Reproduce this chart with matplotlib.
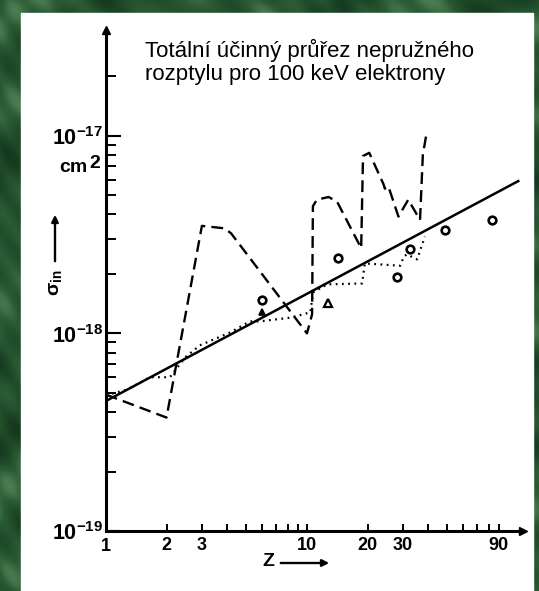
import numpy as np
import matplotlib
matplotlib.use("Agg")
import matplotlib.pyplot as plt
from matplotlib import font_manager
from matplotlib.colors import LinearSegmentedColormap
from matplotlib.patches import Rectangle
from matplotlib.ticker import FixedLocator, NullLocator, FixedFormatter

W, H = 539, 591

# dashed curve (shell model)
dash_z = [1.0, 2.0, 3.0, 3.9, 4.2, 10.0, 10.6, 10.7, 11.2, 12.8, 14.1, 18.6,
          19.0, 20.4, 24.0, 24.4, 25.4, 28.5, 31.9, 36.5, 37.7, 39.2]
dash_s = [4.9e-19, 3.75e-19, 3.5e-18, 3.4e-18, 3.2e-18, 1.0e-18, 1.25e-18,
          4.4e-18, 4.75e-18, 4.9e-18, 4.65e-18, 2.7e-18, 7.9e-18, 8.2e-18,
          5.7e-18, 5.4e-18, 5.55e-18, 3.9e-18, 4.75e-18, 3.75e-18, 8.0e-18,
          1.01e-17]

# dotted curve
dot_z = [1.0, 1.28, 1.65, 2.08, 2.47, 2.93, 4.14, 5.2, 5.83, 8.2, 9.6, 10.4,
         10.7, 12.6, 18.8, 19.4, 29.1, 30.3, 31.4, 35.3, 38.6]
dot_s = [4.86e-19, 5.2e-19, 6.0e-19, 6.0e-19, 7.55e-19, 8.7e-19, 1.01e-18,
         1.15e-18, 1.15e-18, 1.2e-18, 1.25e-18, 1.28e-18, 1.61e-18, 1.77e-18,
         1.79e-18, 2.26e-18, 2.2e-18, 2.45e-18, 2.51e-18, 2.37e-18, 3.09e-18]

# solid power-law fit
sol_z = [1.0, 112.5]
sol_s = [4.55e-19, 5.9e-18]

# measured points
circ_z = [6.0, 14.3, 27.9, 32.6, 48.7, 83.1]
circ_s = [1.48e-18, 2.41e-18, 1.94e-18, 2.68e-18, 3.35e-18, 3.77e-18]
tri_z = [6.0, 12.7]
tri_s = [1.29e-18, 1.43e-18]

xtick_pos = [2, 3, 4, 5, 6, 7, 8, 9, 10, 20, 30, 40, 50, 60, 70, 80, 90]
xtick_lab = ["2", "3", "", "", "", "", "", "", "10", "20", "30",
             "", "", "", "", "", "90"]
ymajor = [1e-19, 1e-18, 1e-17]
ylabels = [r"$\mathbf{10^{-19}}$", r"$\mathbf{10^{-18}}$", r"$\mathbf{10^{-17}}$"]

names = {f.name for f in font_manager.fontManager.ttflist}
narrow = "Liberation Sans Narrow" if "Liberation Sans Narrow" in names else "Liberation Sans"
plt.rcParams["mathtext.fontset"] = "custom"
plt.rcParams["mathtext.rm"] = narrow
plt.rcParams["mathtext.it"] = narrow
plt.rcParams["mathtext.bf"] = narrow + ":bold"

fig = plt.figure(figsize=(W / 100, H / 100), dpi=100)

# marbled green backdrop
bg = fig.add_axes([0, 0, 1, 1])
yy, xx = np.mgrid[0:H, 0:W]
tex = (np.sin(xx / 21.0 + 2.5 * np.sin(yy / 37.0)) +
       np.sin(yy / 15.0 + 2.0 * np.sin(xx / 29.0)) +
       0.7 * np.sin((xx - yy) / 7.0 + 3 * np.sin(xx / 53.0)))
cmap = LinearSegmentedColormap.from_list("marble", ["#15381f", "#1f4a29", "#2b5c35", "#4c7d52"])
bg.imshow(tex, cmap=cmap, aspect="auto", extent=[0, W, H, 0])
bg.add_patch(Rectangle((21, 13), 533 - 21, H - 13, color="white"))
bg.set_xlim(0, W)
bg.set_ylim(H, 0)
bg.axis("off")


def px(x, y):
    return x / W, 1 - y / H


ax = fig.add_axes([106 / W, (H - 531) / H, 417 / W, 501 / H])
ax.set_xscale("log")
ax.set_yscale("log")
ax.set_xlim(1, 10 ** (417 / 201))
ax.set_ylim(1e-19, 10 ** (-18 + 304 / 198))
ax.patch.set_alpha(0)

ax.plot(sol_z, sol_s, "-", color="black", lw=1.8)
ax.plot(dash_z, dash_s, color="black", lw=1.7, dashes=(5, 2.6))
ax.plot(dot_z, dot_s, color="black", lw=1.6, dashes=(0.8, 2.0))
ax.plot(circ_z, circ_s, "o", ms=5.5, mfc="white", mec="black", mew=1.9)
ax.plot(tri_z[:1], tri_s[:1], "^", ms=5, mfc="black", mec="black", mew=1.2)
ax.plot(tri_z[1:], tri_s[1:], "^", ms=5.5, mfc="white", mec="black", mew=1.6)

for s in ["top", "right"]:
    ax.spines[s].set_visible(False)
for s in ["left", "bottom"]:
    ax.spines[s].set_linewidth(2.2)
ax.plot(0, 1, "^", color="black", ms=6, transform=ax.transAxes, clip_on=False)
ax.plot(1, 0, ">", color="black", ms=6, transform=ax.transAxes, clip_on=False)

ax.xaxis.set_major_locator(FixedLocator(xtick_pos))
ax.xaxis.set_major_formatter(FixedFormatter(xtick_lab))
ax.xaxis.set_minor_locator(NullLocator())
ax.tick_params(axis="x", which="major", direction="in", length=5, width=1.4,
               pad=4, labelsize=13)

yminor = [m * 10.0 ** e for e in (-19, -18) for m in range(2, 10)] + [2e-17]
ax.yaxis.set_major_locator(FixedLocator(ymajor))
ax.yaxis.set_major_formatter(FixedFormatter(ylabels))
ax.yaxis.set_minor_locator(FixedLocator(yminor))
ax.tick_params(axis="y", which="major", direction="in", length=11, width=1.5,
               pad=2, labelsize=15.5)
ax.tick_params(axis="y", which="minor", direction="in", length=7, width=1.4)
for lab in ax.get_xticklabels():
    lab.set_family(narrow)
    lab.set_weight("bold")

# label at the origin
fig.text(*px(106, 538), "1", ha="center", va="top", fontsize=13,
         family=narrow, weight="bold")

fig.text(*px(88, 168), "cm", ha="right", va="center", fontsize=14,
         family=narrow, weight="bold")
fig.text(*px(89, 164), "2", ha="left", va="center", fontsize=14,
         family=narrow, weight="bold")

fig.text(*px(55, 283), r"$\mathbf{\sigma_{in}}$", ha="center", va="center",
         rotation=90, fontsize=14)
bg.annotate("", xy=(55, 212), xytext=(55, 264),
            arrowprops=dict(arrowstyle="-|>", color="black", lw=1.7,
                            mutation_scale=10))

fig.text(*px(268, 561), "Z", ha="center", va="center", fontsize=14,
         family=narrow, weight="bold")
bg.annotate("", xy=(332, 563), xytext=(278, 563),
            arrowprops=dict(arrowstyle="-|>", color="black", lw=1.7,
                            mutation_scale=10))

fig.text(*px(145, 39), "Totální účinný průřez nepružného\nrozptylu pro 100 keV elektrony",
         ha="left", va="top", fontsize=16, family="Liberation Sans",
         linespacing=1.1)

fig.savefig("out.png", dpi=100)
